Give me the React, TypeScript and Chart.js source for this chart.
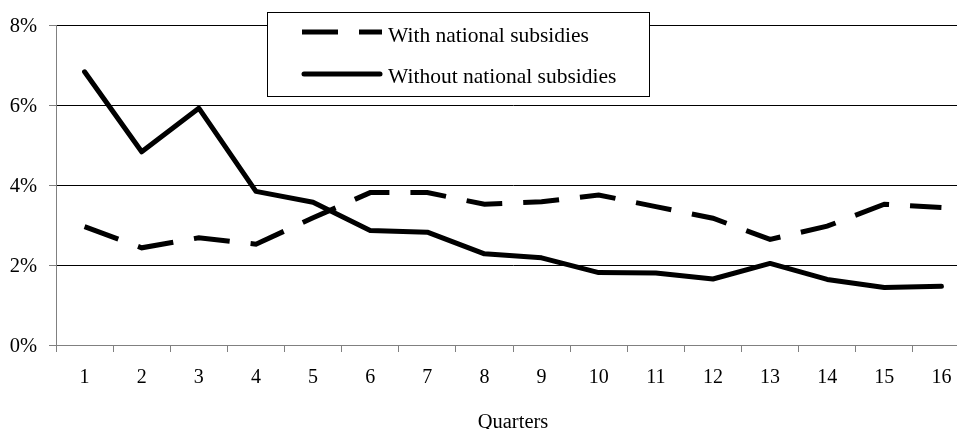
import React, { useEffect, useRef } from "react";
import { Chart, registerables } from "chart.js";

Chart.register(...registerables);

const quarters = ["1", "2", "3", "4", "5", "6", "7", "8", "9", "10", "11", "12", "13", "14", "15", "16"];
const withSubsidies = [2.96, 2.43, 2.68, 2.52, 3.18, 3.81, 3.81, 3.52, 3.58, 3.75, 3.46, 3.17, 2.64, 2.97, 3.52, 3.44];
const withoutSubsidies = [6.83, 4.83, 5.92, 3.84, 3.57, 2.86, 2.82, 2.28, 2.18, 1.81, 1.80, 1.65, 2.04, 1.64, 1.44, 1.47];
const yTicks = [0, 2, 4, 6, 8];
const seriesLabels = ["With national subsidies", "Without national subsidies"];
const xTitle = "Quarters";

const FONT = "'Liberation Serif', 'Times New Roman', serif";

const boxLegend = {
  id: "boxLegend",
  afterDatasetsDraw(chart: any) {
    const ctx = chart.ctx;
    const x0 = 267.5, y0 = 12.5, w = 382, h = 84;
    ctx.save();
    ctx.fillStyle = "#ffffff";
    ctx.fillRect(x0, y0, w, h);
    ctx.strokeStyle = "#000000";
    ctx.lineWidth = 1;
    ctx.setLineDash([]);
    ctx.strokeRect(x0, y0, w, h);
    chart.data.datasets.forEach((ds: any, i: number) => {
      const ly = i === 0 ? 32 : 74;
      ctx.beginPath();
      ctx.setLineDash(ds.borderDash || []);
      ctx.lineWidth = ds.borderWidth;
      ctx.strokeStyle = ds.borderColor;
      ctx.lineCap = ds.borderCapStyle || "butt";
      ctx.moveTo(i === 0 ? 302 : 304, ly);
      ctx.lineTo(i === 0 ? 382 : 380, ly);
      ctx.stroke();
      ctx.setLineDash([]);
      ctx.fillStyle = "#000000";
      ctx.font = `21.5px ${FONT}`;
      ctx.textBaseline = "alphabetic";
      ctx.textAlign = "left";
      ctx.fillText(ds.label, 388, i === 0 ? 42 : 83);
    });
    ctx.restore();
  },
};

export default function App() {
  const ref = useRef<HTMLCanvasElement | null>(null);
  useEffect(() => {
    if (!ref.current) return;
    const chart = new Chart(ref.current, {
      type: "line",
      data: {
        labels: quarters,
        datasets: [
          {
            label: seriesLabels[0],
            data: withSubsidies,
            borderColor: "#000000",
            backgroundColor: "#000000",
            borderWidth: 5,
            borderDash: [36, 21],
            borderCapStyle: "butt",
            borderJoinStyle: "miter",
            pointRadius: 0,
            tension: 0,
            fill: false,
          },
          {
            label: seriesLabels[1],
            data: withoutSubsidies,
            borderColor: "#000000",
            backgroundColor: "#000000",
            borderWidth: 5,
            borderCapStyle: "round",
            borderJoinStyle: "round",
            pointRadius: 0,
            tension: 0,
            fill: false,
          },
        ],
      },
      options: {
        responsive: false,
        animation: false,
        devicePixelRatio: 1,
        layout: { padding: { top: 25, right: 5, left: 0, bottom: 0 } },
        plugins: { legend: { display: false }, tooltip: { enabled: false }, title: { display: false } },
        scales: {
          x: {
            type: "category",
            offset: true,
            grid: { offset: true, drawOnChartArea: false, drawTicks: true, tickLength: 7, tickColor: "#808080", lineWidth: 1 },
            border: { color: "#808080", width: 1 },
            ticks: { font: { family: FONT, size: 20 }, color: "#000000", padding: 14, maxRotation: 0, autoSkip: false },
            title: { display: true, text: xTitle, color: "#000000", font: { family: FONT, size: 20.5, lineHeight: 1 }, padding: { top: 0, bottom: 0 } },
            afterFit: (s: any) => { s.height = 88; },
          },
          y: {
            min: 0,
            max: 8,
            afterBuildTicks: (s: any) => { s.ticks = yTicks.map((v) => ({ value: v })); },
            ticks: { font: { family: FONT, size: 20.5 }, color: "#000000", padding: 12, labelOffset: 2, callback: (v: any) => `${v}%` },
            grid: {
              color: (c: any) => (c.tick && c.tick.value === 0 ? "#808080" : "#000000"),
              tickLength: 7,
              tickColor: "#808080",
              lineWidth: 1,
            },
            border: { color: "#808080", width: 1 },
            afterFit: (s: any) => { s.width = 56; },
          },
        },
      },
      plugins: [boxLegend],
    });
    return () => chart.destroy();
  }, []);
  return (
    <div style={{ position: "fixed", left: 0, top: 0, width: 957, height: 429, overflow: "hidden", background: "#fff" }}>
      <canvas ref={ref} width={975} height={433} style={{ display: "block" }} />
    </div>
  );
}
